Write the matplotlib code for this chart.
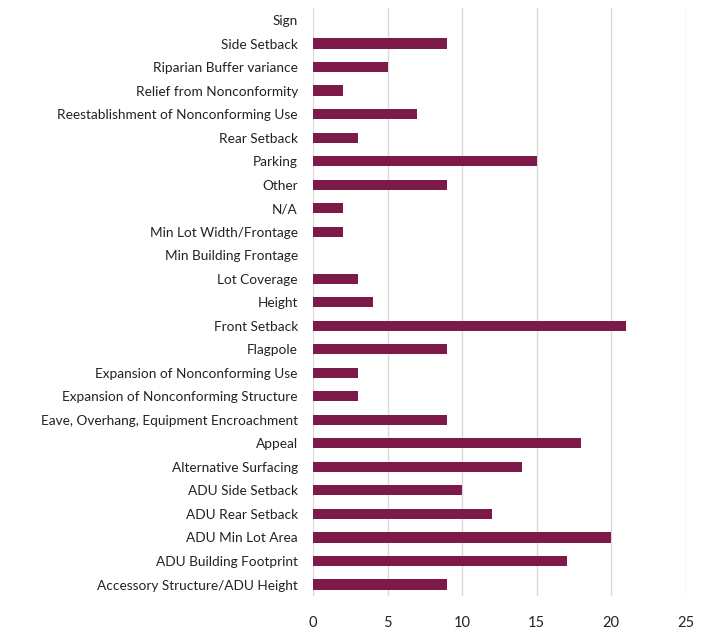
import matplotlib.pyplot as plt

plt.rcParams['font.family'] = ['Lato', 'DejaVu Sans']

# categories from bottom to top
categories = [
    "Accessory Structure/ADU Height", "ADU Building Footprint", "ADU Min Lot Area",
    "ADU Rear Setback", "ADU Side Setback", "Alternative Surfacing", "Appeal",
    "Eave, Overhang, Equipment Encroachment", "Expansion of Nonconforming Structure",
    "Expansion of Nonconforming Use", "Flagpole", "Front Setback", "Height",
    "Lot Coverage", "Min Building Frontage", "Min Lot Width/Frontage", "N/A",
    "Other", "Parking", "Rear Setback", "Reestablishment of Nonconforming Use",
    "Relief from Nonconformity", "Riparian Buffer variance", "Side Setback", "Sign",
]
counts = [9, 17, 20, 12, 10, 14, 18, 9, 3, 3, 9, 21, 4, 3, 0, 2, 2, 9, 15, 3, 7, 2, 5, 9, 0]
xticks = [0, 5, 10, 15, 20, 25]

fig = plt.figure(figsize=(7.1, 6.33), dpi=100)
ax = fig.add_axes([0.441, 0.058, 0.525, 0.929])

ypos = range(len(categories))
ax.barh(ypos, counts, height=0.43, color='#7E1A4A', zorder=3)

ax.set_yticks(list(ypos))
ax.set_yticklabels(categories, fontsize=9.8, color='#222222')
ax.set_ylim(-0.5, len(categories) - 0.5)
ax.set_xlim(0, 25)
ax.set_xticks(xticks)
ax.set_xticklabels([str(t) for t in xticks], fontsize=10.5, color='#222222')
ax.grid(axis='x', color='#d9d9d9', linewidth=1, zorder=0)
ax.tick_params(length=0)
ax.tick_params(axis='x', pad=14)
ax.tick_params(axis='y', pad=11)
for s in ax.spines.values():
    s.set_visible(False)

fig.savefig('out.png', dpi=100)
